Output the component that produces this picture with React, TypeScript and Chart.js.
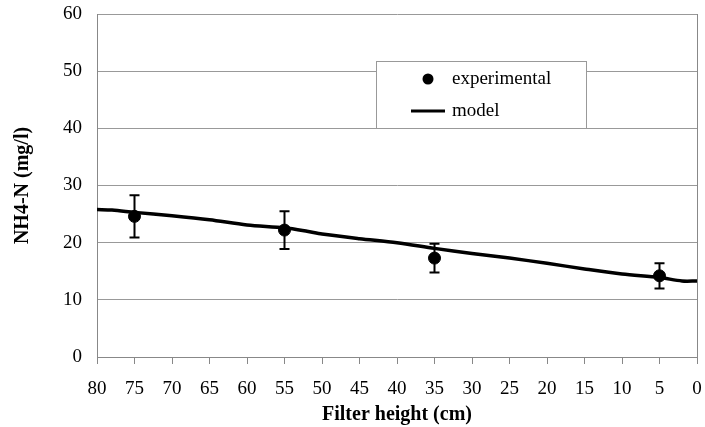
import React, { useEffect, useRef } from "react";
import { Chart, registerables } from "chart.js";

Chart.register(...registerables);

// Experimental data (filter height cm, NH4-N mg/l, error)
const expHeights = [75, 55, 35, 5];
const expValues = [24.6, 22.2, 17.3, 14.2];
const expErrors = [3.7, 3.3, 2.5, 2.2];

// Model curve
const modelHeights = [80, 78, 75, 70, 65, 60, 55, 52, 50, 45, 40, 35, 30, 25, 20, 15, 10, 5, 2, 0];
const modelValues = [25.8, 25.7, 25.3, 24.7, 24.0, 23.1, 22.6, 22.0, 21.5, 20.7, 20.0, 19.0, 18.1, 17.3, 16.4, 15.4, 14.5, 13.9, 13.3, 13.3];

const xTitle = "Filter height (cm)";
const yTitle = "NH4-N (mg/l)";
const legendLabels = ["experimental", "model"];

const SERIF = "'Liberation Serif', 'Times New Roman', serif";

const errorBarPlugin = {
  id: "errorBars",
  afterDatasetsDraw(chart: any) {
    const { ctx, scales } = chart;
    const xs = scales.x;
    const ys = scales.y;
    ctx.save();
    ctx.strokeStyle = "#000";
    ctx.lineWidth = 2;
    expHeights.forEach((h, i) => {
      const x = xs.getPixelForValue(h);
      const yt = ys.getPixelForValue(expValues[i] + expErrors[i]);
      const yb = ys.getPixelForValue(expValues[i] - expErrors[i]);
      ctx.beginPath();
      ctx.moveTo(x, yt);
      ctx.lineTo(x, yb);
      ctx.moveTo(x - 5, yt);
      ctx.lineTo(x + 5, yt);
      ctx.moveTo(x - 5, yb);
      ctx.lineTo(x + 5, yb);
      ctx.stroke();
    });
    ctx.restore();
  },
};

const frameLegendPlugin = {
  id: "frameLegend",
  afterDraw(chart: any) {
    const { ctx, chartArea } = chart;
    ctx.save();
    // right border
    ctx.strokeStyle = "#888";
    ctx.lineWidth = 1;
    ctx.beginPath();
    ctx.moveTo(Math.round(chartArea.right) + 0.5, chartArea.top);
    ctx.lineTo(Math.round(chartArea.right) + 0.5, chartArea.bottom);
    ctx.stroke();

    // legend box
    const bx = 376.5, by = 61.5, bw = 210, bh = 67;
    ctx.fillStyle = "#fff";
    ctx.fillRect(bx, by, bw, bh);
    ctx.strokeStyle = "#999";
    ctx.strokeRect(bx, by, bw, bh);

    ctx.fillStyle = "#000";
    ctx.beginPath();
    ctx.arc(428, 79, 5.5, 0, Math.PI * 2);
    ctx.fill();
    ctx.strokeStyle = "#000";
    ctx.lineWidth = 3;
    ctx.beginPath();
    ctx.moveTo(411, 111);
    ctx.lineTo(445, 111);
    ctx.stroke();

    ctx.font = `19px ${SERIF}`;
    ctx.textBaseline = "middle";
    ctx.textAlign = "left";
    ctx.fillText(legendLabels[0], 452, 79);
    ctx.fillText(legendLabels[1], 452, 111);
    ctx.restore();
  },
};

export default function App() {
  const ref = useRef<HTMLCanvasElement | null>(null);
  useEffect(() => {
    document.body.style.margin = "0";
    const canvas = ref.current!;
    const chart = new Chart(canvas, {
      type: "scatter",
      data: {
        datasets: [
          {
            label: legendLabels[1],
            type: "line",
            data: modelHeights.map((h, i) => ({ x: h, y: modelValues[i] })),
            borderColor: "#000",
            borderWidth: 3.5,
            pointRadius: 0,
            tension: 0.3,
            fill: false,
          },
          {
            label: legendLabels[0],
            data: expHeights.map((h, i) => ({ x: h, y: expValues[i] })),
            backgroundColor: "#000",
            borderColor: "#000",
            pointRadius: 6,
            pointStyle: "circle",
          },
        ],
      },
      options: {
        responsive: false,
        animation: false,
        layout: { padding: { left: 0, right: 8, top: 14, bottom: 0 } },
        plugins: {
          legend: { display: false },
          tooltip: { enabled: false },
        },
        scales: {
          x: {
            type: "linear",
            reverse: true,
            min: 0,
            max: 80,
            afterFit(scale: any) {
              scale.height = 70;
              scale.paddingLeft = 0;
              scale.paddingRight = 0;
            },
            ticks: {
              stepSize: 5,
              color: "#000",
              padding: 14,
              font: { family: SERIF, size: 19 },
            },
            grid: {
              drawOnChartArea: false,
              drawTicks: true,
              tickLength: 7,
              color: "#888",
            },
            border: { color: "#888" },
            title: {
              display: true,
              text: xTitle,
              color: "#000",
              font: { family: SERIF, size: 20, weight: "bold" },
              padding: { top: 0, bottom: 0 },
            },
          },
          y: {
            min: 0,
            max: 60,
            afterFit(scale: any) {
              scale.width = 97;
              scale.paddingTop = 0;
              scale.paddingBottom = 0;
            },
            ticks: {
              stepSize: 10,
              color: "#000",
              padding: 15,
              font: { family: SERIF, size: 19 },
            },
            grid: {
              color: "#999",
              drawTicks: false,
            },
            border: { color: "#888" },
            title: {
              display: true,
              text: yTitle,
              color: "#000",
              font: { family: SERIF, size: 20, weight: "bold" },
              padding: { top: 11, bottom: 0 },
            },
          },
        },
      },
      plugins: [errorBarPlugin, frameLegendPlugin],
    } as any);
    return () => chart.destroy();
  }, []);
  return (
    <div style={{ width: 705, height: 427, background: "#fff" }}>
      <canvas ref={ref} width={705} height={427} />
    </div>
  );
}
